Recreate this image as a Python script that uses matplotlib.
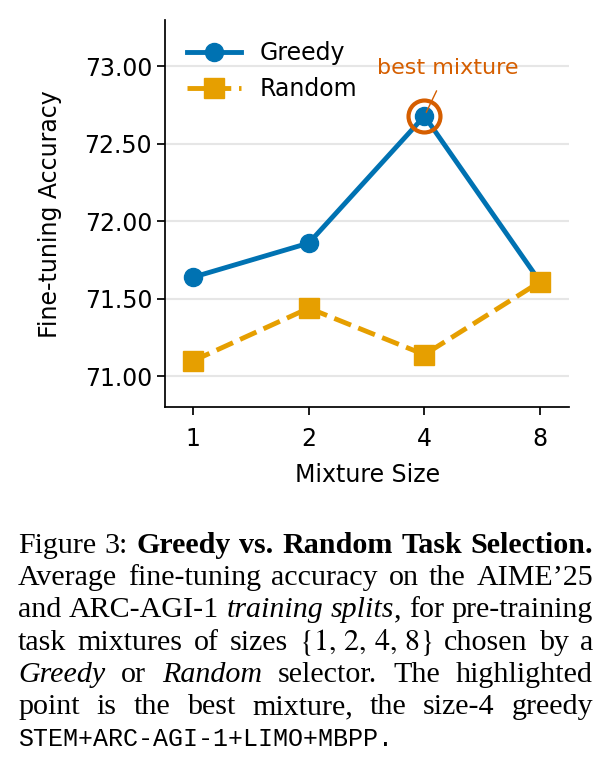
import numpy as np
import matplotlib
matplotlib.use("Agg")
import matplotlib.pyplot as plt
from matplotlib.ticker import FormatStrFormatter

plt.rcParams['mathtext.fontset'] = 'stix'

# ---- data ----
mixture_sizes = ["1", "2", "4", "8"]
greedy_acc = [71.64, 71.86, 72.68, 71.61]
random_acc = [71.10, 71.44, 71.14, 71.61]
y_ticks = [71.00, 71.50, 72.00, 72.50, 73.00]

BLUE = "#0072B2"
ORANGE = "#E69F00"
VERMILION = "#D55E00"

W, H = 608, 772
fig = plt.figure(figsize=(W / 100, H / 100), dpi=100)
ax = fig.add_axes([165.4 / W, 1 - 407.3 / H, (569 - 165.4) / W, (407.3 - 20) / H])

xs = np.arange(len(mixture_sizes))
ax.plot(xs, greedy_acc, color=BLUE, lw=3.5, marker='o', ms=13, label='Greedy', zorder=3)
ax.plot(xs, random_acc, color=ORANGE, lw=3.5, ls='--', marker='s', ms=14, label='Random', zorder=3)

best = int(np.argmax(greedy_acc))
ax.plot([xs[best]], [greedy_acc[best]], marker='o', ms=23, mfc='none', mec=VERMILION,
        mew=3, ls='none', zorder=5)
ax.annotate('best mixture', xy=(xs[best], greedy_acc[best]), xytext=(xs[best] + 0.2, 72.99),
            ha='center', va='center', color=VERMILION, fontsize=16,
            arrowprops=dict(arrowstyle='-', color=VERMILION, lw=1.0, shrinkA=8, shrinkB=3))

ax.set_xlim(-0.24, 3.25)
ax.set_ylim(70.80, 73.30)
ax.set_xticks(xs)
ax.set_xticklabels(mixture_sizes)
ax.set_yticks(y_ticks)
ax.yaxis.set_major_formatter(FormatStrFormatter('%.2f'))
ax.tick_params(labelsize=17, length=6, width=1.25)
ax.tick_params(axis='x', pad=8.5)
ax.set_xlabel('Mixture Size', fontsize=17, labelpad=8)
ax.set_ylabel('Fine-tuning Accuracy', fontsize=17, labelpad=16)
for s in ['top', 'right']:
    ax.spines[s].set_visible(False)
for s in ['left', 'bottom']:
    ax.spines[s].set_linewidth(1.25)
ax.yaxis.grid(True, color='#e6e6e6', lw=1.5)
ax.set_axisbelow(True)
ax.legend(loc='upper left', frameon=False, fontsize=17, handlelength=2.3, handletextpad=0.8)

# ---- caption (justified) ----
SERIF = 'Liberation Serif'
MONO = 'Liberation Mono'


def make_styles(size):
    return {
        'n': dict(family=SERIF, size=size),
        'b': dict(family=SERIF, size=size, weight='bold'),
        'i': dict(family=SERIF, size=size, style='italic'),
        'm': dict(family=SERIF, size=size),
        't': dict(family=MONO, size=18),
    }


caption_lines = [
    ([[("Figure", 'n')], [("3:", 'n')], [("Greedy", 'b')], [("vs.", 'b')], [("Random", 'b')],
      [("Task", 'b')], [("Selection.", 'b')]], True),
    ([[(w, 'n')] for w in "Average fine-tuning accuracy on the AIME’25".split()], True),
    ([[("and", 'n')], [("ARC-AGI-1", 'n')], [("training", 'i')], [("splits", 'i'), (",", 'n')],
      [("for", 'n')], [("pre-training", 'n')]], True),
    ([[(w, 'n')] for w in "task mixtures of sizes".split()] + [[(r"$\{1,\,2,\,4,\,8\}$", 'm')]] +
     [[(w, 'n')] for w in "chosen by a".split()], True),
    ([[("Greedy", 'i')], [("or", 'n')], [("Random", 'i')]] +
     [[(w, 'n')] for w in "selector. The highlighted".split()], True),
    ([[(w, 'n')] for w in "point is the best mixture, the size-4 greedy".split()], True),
    ([[("STEM+ARC-AGI-1+LIMO+MBPP.", 't')]], False),
]

renderer = fig.canvas.get_renderer()
LEFT, RIGHT = 18.0, 593.0
base0, step = 552.7, 32.3


def seg_width(txt, st, styles):
    t = fig.text(0, 0, txt, **styles[st])
    w = t.get_window_extent(renderer).width
    t.remove()
    return w


def natural_width(words, styles):
    sp = seg_width("a b", 'n', styles) - seg_width("ab", 'n', styles)
    tot = sum(seg_width(txt, st, styles) for wd in words for txt, st in wd)
    return tot + sp * (len(words) - 1)


# fit the serif size so the widest justified line fills the column with normal spaces
s0 = 20.0
st0 = make_styles(s0)
scales = [(RIGHT - LEFT) / natural_width(words, st0) for words, j in caption_lines if j]
cap_size = s0 * min(scales)
styles = make_styles(cap_size)
space_w = seg_width("a b", 'n', styles) - seg_width("ab", 'n', styles)

for i, (words, justify) in enumerate(caption_lines):
    yb = base0 + i * step
    widths = [[seg_width(txt, st, styles) for txt, st in wd] for wd in words]
    total = sum(sum(w) for w in widths)
    if justify and len(words) > 1:
        gap = (RIGHT - LEFT - total) / (len(words) - 1)
    else:
        gap = space_w
    x = LEFT
    for wd, ws in zip(words, widths):
        for (txt, st), w in zip(wd, ws):
            fig.text(x / W, 1 - yb / H, txt, ha='left', va='baseline', **styles[st])
            x += w
        x += gap

fig.savefig('out.png', dpi=100)
